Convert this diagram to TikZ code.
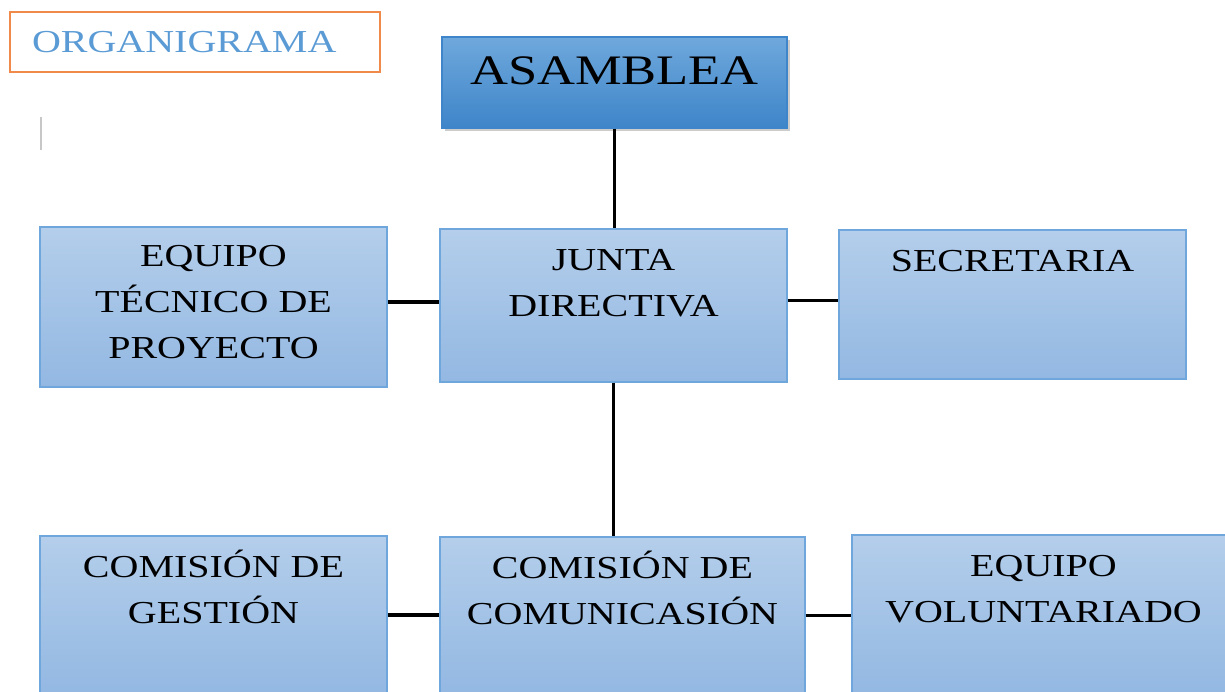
\documentclass[tikz,border=0pt]{standalone}
\usepackage{fontspec}
\usetikzlibrary{shadows}
\newfontfamily\orgfont[FakeStretch=1.25]{Liberation Serif}
\definecolor{boxtop}{HTML}{B4CEEB}
\definecolor{boxbot}{HTML}{93B8E2}
\definecolor{boxline}{HTML}{6FA6DC}
\definecolor{headtop}{HTML}{6FA8DC}
\definecolor{headbot}{HTML}{3E85C9}
\definecolor{titleline}{HTML}{F08A4B}
\definecolor{titletext}{HTML}{5B9BD5}
\begin{document}
\begin{tikzpicture}[x=1pt,y=1pt]
	\tikzstyle{every node}+=[inner sep=0pt]
	\tikzstyle{unit}=[rectangle, draw=boxline, line width=1.2pt, top color=boxtop, bottom color=boxbot]
	\tikzstyle{unittext}=[align=center, anchor=base, font=\orgfont\fontsize{32}{46}\selectfont]
	\tikzstyle{link}=[black, line width=3.2pt]
	\useasboundingbox (0,0) rectangle (1225,-692);
	% title and cursor
	\node [rectangle, draw=titleline, line width=1.2pt, minimum width=370, minimum height=60, text width=326, inner xsep=22, align=left, text=titletext, font=\orgfont\fontsize{32}{36}\selectfont] (title) at (195,-42) {ORGANIGRAMA};
	\draw [color=black!22, line width=2pt] (41,-117) -- (41,-150);
	% boxes
	\node [unit, top color=headtop, bottom color=headbot, draw=headbot, drop shadow={shadow xshift=3pt, shadow yshift=-3pt, opacity=.4}, minimum width=345, minimum height=91] (asamblea) at (614.5,-82.5) {};
	\node [unittext, font=\orgfont\fontsize{42}{50}\selectfont] (asambleaT) at ([yshift=-48]asamblea.north) {ASAMBLEA};
	\node [unit, minimum width=347, minimum height=153] (junta) at (613.5,-305.5) {};
	\node [unittext] (juntaT) at ([yshift=-88]junta.north) {JUNTA\\DIRECTIVA};
	\node [unit, minimum width=347, minimum height=160] (tecnico) at (213.5,-307) {};
	\node [unittext] (tecnicoT) at ([yshift=-132]tecnico.north) {EQUIPO\\TÉCNICO DE\\PROYECTO};
	\node [unit, minimum width=347, minimum height=149] (secretaria) at (1012.5,-304.5) {};
	\node [unittext] (secretariaT) at ([yshift=-42]secretaria.north) {SECRETARIA};
	\node [unit, minimum width=347, minimum height=158] (gestion) at (213.5,-615) {};
	\node [unittext] (gestionT) at ([yshift=-88]gestion.north) {COMISIÓN DE\\GESTIÓN};
	\node [unit, minimum width=365, minimum height=157] (comunic) at (622.5,-615.5) {};
	\node [unittext] (comunicT) at ([yshift=-88]comunic.north) {COMISIÓN DE\\COMUNICASIÓN};
	\node [unit, minimum width=383, minimum height=159] (voluntario) at (1043.5,-614.5) {};
	\node [unittext] (voluntarioT) at ([yshift=-88]voluntario.north) {EQUIPO\\VOLUNTARIADO};
	% connectors
	\draw [link] (asamblea.south) -- (asamblea.south |- junta.north);
	\draw [link] ([yshift=5]tecnico.east) -- ([yshift=5]tecnico.east -| junta.west);
	\draw [link] ([yshift=5]junta.east) -- ([yshift=5]junta.east -| secretaria.west);
	\draw [link] (junta.south) -- (junta.south |- comunic.north);
	\draw [link] (gestion.east) -- (gestion.east -| comunic.west);
	\draw [link] (comunic.east) -- (comunic.east -| voluntario.west);
\end{tikzpicture}
\end{document}
